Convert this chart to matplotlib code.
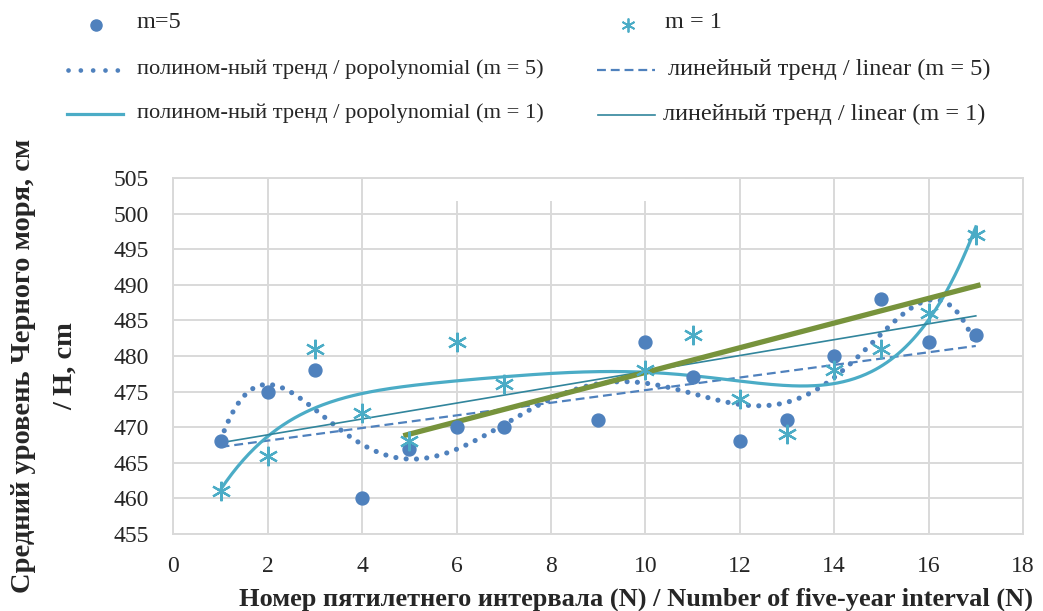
import numpy as np
import matplotlib
matplotlib.use("Agg")
import matplotlib.pyplot as plt
from matplotlib.lines import Line2D
from matplotlib.patches import Rectangle

plt.rcParams["font.family"] = ["Liberation Serif", "DejaVu Serif"]

# five-year interval numbers and mean Black Sea level (cm)
n_m5 = [1, 2, 3, 4, 5, 6, 7, 9, 10, 11, 12, 13, 14, 15, 16, 17]
h_m5 = [468, 475, 478, 460, 467, 470, 470, 471, 482, 477, 468, 471, 480, 488, 482, 483]
n_m1 = [1, 2, 3, 4, 5, 6, 7, 10, 11, 12, 13, 14, 15, 16, 17]
h_m1 = [461, 466, 481, 472, 468, 482, 476, 478, 483, 474, 469, 478, 481, 486, 497]

# extra straight trend drawn over the second half
green_n = [4.87, 17.1]
green_h = [468.8, 490.0]

C_M5 = "#4F81BD"
C_M1 = "#4BACC6"
C_LIN1 = "#31859C"
C_GREEN = "#77933C"
GRID = "#D9D9D9"
TXT = "#262626"

W, H = 1043, 611


def fx(x):
    return x / W


def fy(y):
    return 1 - y / H


fig = plt.figure(figsize=(W / 100, H / 100), dpi=100)
ax = fig.add_axes([fx(173.4), fy(534), fx(1023) - fx(173.4), fy(178) - fy(534)])

x5, y5 = np.array(n_m5, float), np.array(h_m5, float)
x1, y1 = np.array(n_m1, float), np.array(h_m1, float)
xs = np.linspace(1, 17, 400)

# trend lines: polynomial order 6 (m=5), order 5 (m=1), plus linear fits
poly5 = np.polyval(np.polyfit(x5, y5, 6), xs)
poly1 = np.polyval(np.polyfit(x1, y1, 5), xs)
lin5 = np.polyval(np.polyfit(x5, y5, 1), xs)
lin1 = np.polyval(np.polyfit(x1, y1, 1), xs)

ax.plot(xs, poly5, color=C_M5, lw=3.7, linestyle=(0, (0.01, 2.0)),
        dash_capstyle="round", zorder=3)
ax.plot(xs, lin5, color=C_M5, lw=1.6, linestyle=(0, (4, 2.2)), zorder=3)
ax.plot(xs, poly1, color=C_M1, lw=2.3, zorder=3)
ax.plot(xs, lin1, color=C_LIN1, lw=1.2, zorder=3)
ax.plot(green_n, green_h, color=C_GREEN, lw=3.8, solid_capstyle="butt", zorder=4)

ax.plot(x5, y5, linestyle="none", marker="o", ms=9.3, color=C_M5, zorder=5)
ax.plot(x1, y1, linestyle="none", marker=(6, 2, 0), ms=14, mew=1.6,
        color=C_M1, zorder=5)

ax.set_xlim(0, 18)
ax.set_ylim(455, 505)
ax.set_xticks(range(0, 19, 2))
ax.set_yticks(range(455, 506, 5))
ax.grid(True, color=GRID, lw=1.4)
ax.set_axisbelow(True)
for s in ax.spines.values():
    s.set_color(GRID)
    s.set_linewidth(1.4)
ax.tick_params(length=0, labelsize=17, colors=TXT)
ax.tick_params(axis="y", pad=18)
ax.tick_params(axis="x", pad=16)

# blank strip over the top edge of the grid
ax.add_patch(Rectangle((fx(408), fy(201)), fx(685) - fx(408), fy(168) - fy(201),
                       transform=fig.transFigure, facecolor="white",
                       edgecolor="none", zorder=1, clip_on=False))

fig.text(fx(636), fy(599), "Номер пятилетнего интервала (N) / Number of five-year interval (N)",
         ha="center", va="center", fontsize=19, fontweight="bold", color=TXT)
fig.text(fx(24), fy(366), "Средний уровень Черного моря, см",
         rotation=90, ha="center", va="center", fontsize=20.5, fontweight="bold", color=TXT)
fig.text(fx(65), fy(366), "/ H, cm",
         rotation=90, ha="center", va="center", fontsize=20.5, fontweight="bold", color=TXT)

# legend laid out in two columns above the plot
fig.add_artist(Line2D([fx(96)], [fy(25)], marker="o", ms=8, color=C_M5, linestyle="none"))
fig.text(fx(137), fy(23), "m=5", va="center", fontsize=17.5, color=TXT)
fig.add_artist(Line2D([fx(628)], [fy(25)], marker=(6, 2, 0), ms=10, mew=1.3,
                      color=C_M1, linestyle="none"))
fig.text(fx(665), fy(23), "m = 1", va="center", fontsize=17.5, color=TXT)

fig.add_artist(Line2D([fx(68), fx(123)], [fy(70), fy(70)], color=C_M5, lw=3.4,
                      linestyle=(0, (0.01, 2.6)), dash_capstyle="round"))
fig.text(fx(137), fy(69), "полином-ный тренд / popolynomial (m = 5)",
         va="center", fontsize=16.2, color=TXT)
fig.add_artist(Line2D([fx(597), fx(655)], [fy(70), fy(70)], color=C_M5, lw=1.6,
                      linestyle=(0, (4, 2.2))))
fig.text(fx(668), fy(69), "линейный тренд / linear (m = 5)",
         va="center", fontsize=17.5, color=TXT)

fig.add_artist(Line2D([fx(67), fx(123)], [fy(114), fy(114)], color=C_M1, lw=2.3))
fig.text(fx(137), fy(113), "полином-ный тренд / popolynomial (m = 1)",
         va="center", fontsize=16.2, color=TXT)
fig.add_artist(Line2D([fx(598), fx(655)], [fy(115), fy(115)], color=C_LIN1, lw=1.2))
fig.text(fx(663), fy(114), "линейный тренд / linear (m = 1)",
         va="center", fontsize=17.5, color=TXT)

fig.savefig("out.png", dpi=100)
